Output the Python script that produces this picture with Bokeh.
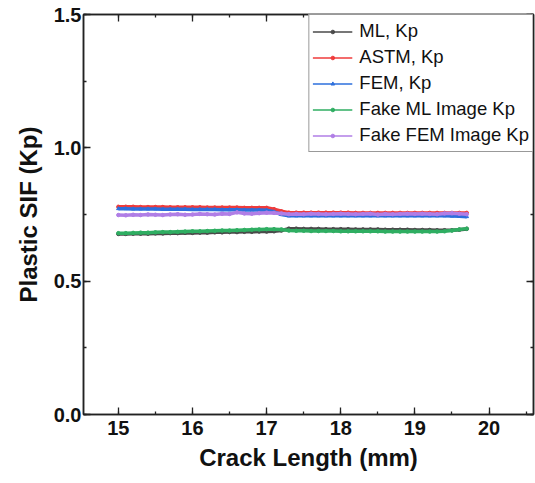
from bokeh.plotting import figure
from bokeh.models import (Range1d, LinearAxis, SingleIntervalTicker, Legend, LegendItem,
                          PrintfTickFormatter, CustomJSTickFormatter)
from bokeh.embed import file_html
from bokeh.resources import INLINE

crack_length = [15.0, 15.1, 15.2, 15.3, 15.4, 15.5, 15.6, 15.7, 15.8, 15.9,
                16.0, 16.1, 16.2, 16.3, 16.4, 16.5, 16.6, 16.7, 16.8, 16.9,
                17.0, 17.1, 17.2, 17.3, 17.4, 17.5, 17.6, 17.7, 17.8, 17.9,
                18.0, 18.1, 18.2, 18.3, 18.4, 18.5, 18.6, 18.7, 18.8, 18.9,
                19.0, 19.1, 19.2, 19.3, 19.4, 19.5, 19.6, 19.7]

ml_kp = [0.677, 0.677, 0.678, 0.678, 0.678, 0.679, 0.679, 0.680, 0.680, 0.681,
         0.681, 0.682, 0.682, 0.683, 0.683, 0.684, 0.684, 0.685, 0.685, 0.686,
         0.686, 0.687, 0.690, 0.697, 0.697, 0.696, 0.696, 0.696, 0.695, 0.695,
         0.695, 0.695, 0.694, 0.694, 0.694, 0.694, 0.693, 0.693, 0.693, 0.693,
         0.692, 0.692, 0.692, 0.691, 0.691, 0.691, 0.693, 0.696]

astm_kp = [0.779, 0.779, 0.779, 0.778, 0.778, 0.778, 0.778, 0.777, 0.777, 0.777,
           0.777, 0.777, 0.776, 0.776, 0.776, 0.776, 0.776, 0.775, 0.775, 0.775,
           0.775, 0.770, 0.762, 0.757, 0.757, 0.757, 0.757, 0.757, 0.757, 0.757,
           0.757, 0.757, 0.756, 0.756, 0.756, 0.756, 0.756, 0.756, 0.756, 0.756,
           0.756, 0.756, 0.756, 0.756, 0.756, 0.756, 0.756, 0.756]

fem_kp = [0.772, 0.772, 0.771, 0.771, 0.771, 0.771, 0.770, 0.770, 0.770, 0.770,
          0.769, 0.769, 0.769, 0.769, 0.768, 0.768, 0.768, 0.767, 0.767, 0.767,
          0.766, 0.760, 0.750, 0.745, 0.745, 0.745, 0.745, 0.745, 0.745, 0.745,
          0.745, 0.745, 0.745, 0.745, 0.745, 0.745, 0.745, 0.745, 0.745, 0.745,
          0.745, 0.745, 0.745, 0.745, 0.745, 0.744, 0.743, 0.742]

fake_ml_kp = [0.680, 0.680, 0.681, 0.682, 0.682, 0.683, 0.684, 0.684, 0.685, 0.686,
              0.687, 0.687, 0.688, 0.689, 0.690, 0.690, 0.691, 0.692, 0.693, 0.694,
              0.695, 0.695, 0.694, 0.690, 0.689, 0.689, 0.688, 0.688, 0.688, 0.688,
              0.687, 0.687, 0.687, 0.687, 0.687, 0.687, 0.686, 0.686, 0.686, 0.686,
              0.686, 0.686, 0.686, 0.686, 0.687, 0.690, 0.694, 0.697]

fake_fem_kp = [0.748, 0.747, 0.749, 0.748, 0.750, 0.749, 0.748, 0.750, 0.751, 0.749,
               0.750, 0.752, 0.751, 0.750, 0.753, 0.752, 0.758, 0.754, 0.753, 0.755,
               0.757, 0.756, 0.754, 0.751, 0.752, 0.751, 0.753, 0.752, 0.751, 0.752,
               0.753, 0.752, 0.751, 0.752, 0.753, 0.750, 0.752, 0.751, 0.752, 0.753,
               0.752, 0.753, 0.752, 0.751, 0.754, 0.755, 0.753, 0.751]

series_names = ["ML, Kp", "ASTM, Kp", "FEM, Kp", "Fake ML Image Kp", "Fake FEM Image Kp"]
series_values = [ml_kp, astm_kp, fem_kp, fake_ml_kp, fake_fem_kp]
series_colors = ["#4a4a4a", "#ef3b3b", "#2d6fdc", "#2fae62", "#b07ee6"]

FONT = "Liberation Sans"
NAN = float("nan")

p = figure(width=535, height=483, output_backend="svg", toolbar_location=None,
           x_range=Range1d(14.53, 20.6), y_range=Range1d(0.0, 1.5),
           min_border_left=83, min_border_right=2, min_border_top=14,
           min_border_bottom=69)
p.outline_line_color = "#222222"
p.outline_line_width = 1.5
p.xgrid.visible = False
p.ygrid.visible = False

items = []
for name, vals, col in zip(series_names, series_values, series_colors):
    marker = "triangle" if name == "FEM, Kp" else "circle"
    p.line(crack_length, vals, line_color=col, line_width=3.5)
    p.scatter(crack_length, vals, size=3.5, color=col, marker=marker)
    # thin legend glyphs (no visible data)
    l1 = p.line([NAN, NAN], [NAN, NAN], line_color=col, line_width=1.6)
    l2 = p.scatter([NAN], [NAN], size=4, color=col, marker=marker)
    items.append(LegendItem(label=name, renderers=[l1, l2]))

def style(ax, labels=True):
    ax.axis_line_color = "#222222"
    ax.axis_line_width = 1.5
    ax.major_tick_in = 7
    ax.major_tick_out = 0
    ax.minor_tick_in = 3
    ax.minor_tick_out = 0
    ax.major_tick_line_color = "#222222"
    ax.minor_tick_line_color = "#222222"
    ax.major_tick_line_width = 1.3
    ax.minor_tick_line_width = 1.3
    ax.major_label_text_font = FONT
    ax.major_label_text_font_style = "bold"
    ax.major_label_text_font_size = "20px"
    ax.major_label_text_color = "#111111"
    ax.axis_label_text_font = FONT
    ax.axis_label_text_font_style = "bold"
    ax.axis_label_text_font_size = "24px"
    ax.axis_label_text_color = "#111111"
    if not labels:
        ax.formatter = CustomJSTickFormatter(code="return ''")

p.xaxis.ticker = SingleIntervalTicker(interval=1, num_minor_ticks=2)
p.yaxis.ticker = SingleIntervalTicker(interval=0.5, num_minor_ticks=2)
p.xaxis.axis_label = "Crack Length (mm)"
p.yaxis.axis_label = "Plastic SIF (Kp)"
style(p.xaxis[0])
style(p.yaxis[0])
p.yaxis.formatter = PrintfTickFormatter(format="%.1f")
p.xaxis.major_label_standoff = 6
p.yaxis.major_label_standoff = 2
p.xaxis.axis_label_standoff = 6
p.yaxis.axis_label_standoff = 9

ra = LinearAxis(ticker=SingleIntervalTicker(interval=0.5, num_minor_ticks=2))
style(ra, labels=False)
p.add_layout(ra, "right")
ta = LinearAxis(ticker=SingleIntervalTicker(interval=1, num_minor_ticks=2))
style(ta, labels=False)
p.add_layout(ta, "above")

legend = Legend(items=items, location="top_right")
legend.label_text_font = FONT
legend.label_text_font_size = "18.5px"
legend.label_text_color = "#111111"
legend.border_line_color = "#333333"
legend.border_line_width = 1.2
legend.margin = 0
legend.padding = 3
legend.spacing = 0
legend.glyph_width = 40
legend.glyph_height = 9
legend.label_height = 26
legend.label_standoff = 7
legend.background_fill_alpha = 1
p.add_layout(legend)

open("out.html", "w").write(file_html(p, INLINE))
